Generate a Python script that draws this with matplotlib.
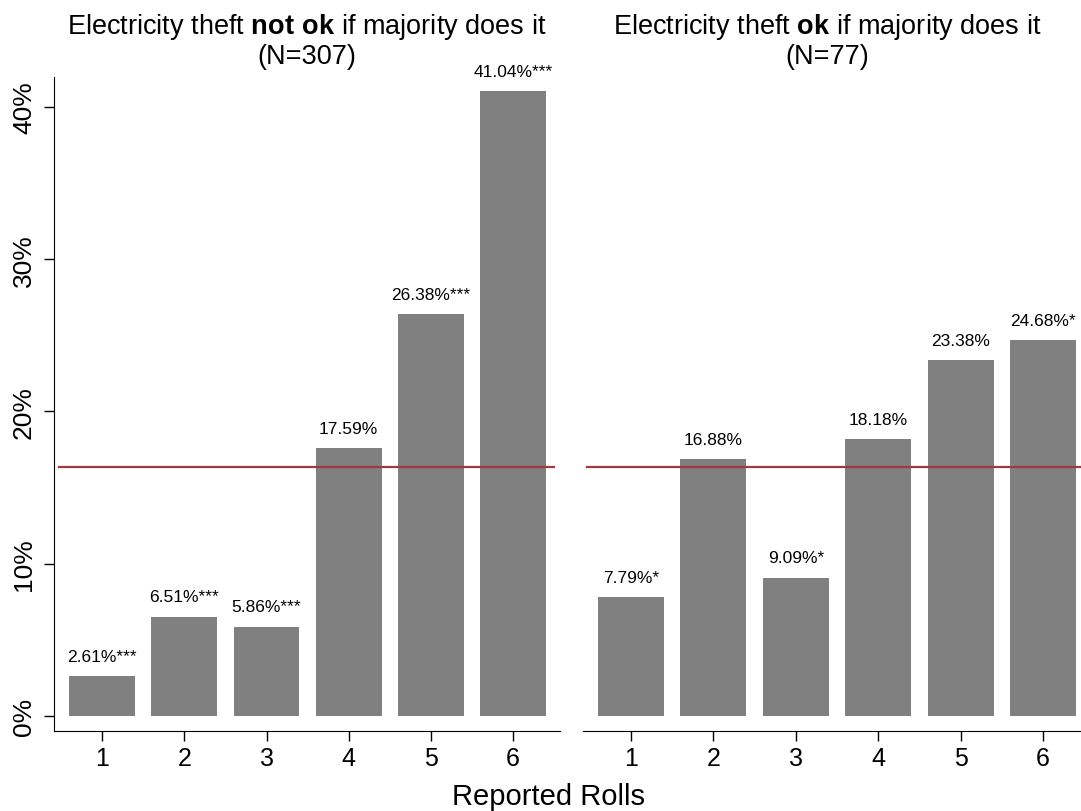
import matplotlib
matplotlib.use("Agg")
import matplotlib.pyplot as plt

rolls = [1, 2, 3, 4, 5, 6]
notok_vals = [2.61, 6.51, 5.86, 17.59, 26.38, 41.04]
notok_labels = ["2.61%***", "6.51%***", "5.86%***", "17.59%", "26.38%***", "41.04%***"]
ok_vals = [7.79, 16.88, 9.09, 18.18, 23.38, 24.68]
ok_labels = ["7.79%*", "16.88%", "9.09%*", "18.18%", "23.38%", "24.68%*"]
ref_line = 16.35
title_lines = [(r"Electricity theft $\mathbf{not\ ok}$ if majority does it", "(N=307)"),
               (r"Electricity theft $\mathbf{ok}$ if majority does it", "(N=77)")]
yticks = [0, 10, 20, 30, 40]

plt.rcParams['font.family'] = 'Liberation Sans'
plt.rcParams['mathtext.fontset'] = 'custom'
plt.rcParams['mathtext.rm'] = 'Liberation Sans'
plt.rcParams['mathtext.bf'] = 'Liberation Sans:bold'

W, H = 1081, 812
fig = plt.figure(figsize=(W / 100, H / 100), dpi=100)

bar_color = "#808080"
line_color = "#9e3a40"

def make_ax(x0, x1, y0, y1):
    return fig.add_axes([x0 / W, 1 - y1 / H, (x1 - x0) / W, (y1 - y0) / H])

ax1 = make_ax(54, 560, 78, 732)
ax2 = make_ax(583, 1081, 78, 732)

panels = [(ax1, notok_vals, notok_labels, title_lines[0], (0.415, 6.57), 307),
          (ax2, ok_vals, ok_labels, title_lines[1], (0.4175, 6.46), 827)]

for ax, vals, labels, tl, xlim, tx in panels:
    ax.bar(rolls, vals, width=0.8, color=bar_color)
    ax.plot([0.47, 6.5], [ref_line, ref_line], color=line_color, lw=1.6)
    for x, v, lab in zip(rolls, vals, labels):
        ax.annotate(lab, (x, v), xytext=(0, 9), textcoords="offset points",
                    ha="center", va="bottom", fontsize=12.5)
    ax.set_xlim(*xlim)
    ax.set_ylim(-0.985, 41.97)
    ax.set_xticks(rolls)
    ax.set_xticklabels([str(r) for r in rolls])
    ax.tick_params(axis="x", labelsize=18, length=7, width=1, pad=4)
    ax.spines["top"].set_visible(False)
    ax.spines["right"].set_visible(False)
    fig.text(tx / W, 1 - 27 / H, tl[0], ha="center", va="center", fontsize=19.5)
    fig.text(tx / W, 1 - 57 / H, tl[1], ha="center", va="center", fontsize=19.5)

ax1.set_yticks(yticks)
ax1.set_yticklabels([f"{t}%" for t in yticks], rotation=90, va="center")
ax1.tick_params(axis="y", labelsize=19, length=7, width=1, pad=6)
ax2.spines["left"].set_visible(False)
ax2.set_yticks([])

fig.text(549 / W, 1 - 797 / H, "Reported Rolls", ha="center", va="center", fontsize=21)

fig.savefig("out.png", dpi=100)
